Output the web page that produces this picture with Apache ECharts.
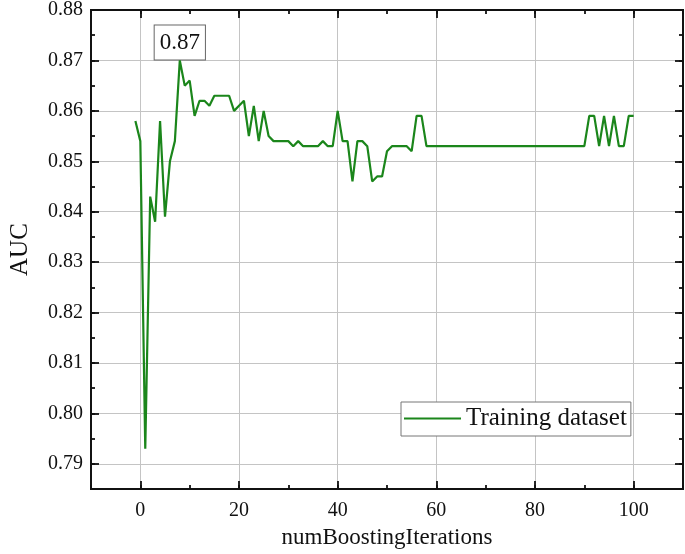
<!DOCTYPE html>
<html>
<head>
<meta charset="utf-8">
<script src="https://cdn.jsdelivr.net/npm/echarts@6/dist/echarts.min.js"></script>
<style>html,body{margin:0;padding:0;background:#fff}#c{width:685px;height:554px}</style>
</head>
<body>
<div id="c"></div>
<script>
// Data
const iterations = [-1,0,1,2,3,4,5,6,7,8,9,10,11,12,13,14,15,16,17,18,19,20,21,22,23,24,25,26,27,28,29,30,31,32,33,34,35,36,37,38,39,40,41,42,43,44,45,46,47,48,49,50,51,52,53,54,55,56,57,58,59,60,61,62,63,64,65,66,67,68,69,70,71,72,73,74,75,76,77,78,79,80,81,82,83,84,85,86,87,88,89,90,91,92,93,94,95,96,97,98,99,100];
const aucTraining = [0.858,0.854,0.793,0.843,0.838,0.858,0.839,0.850,0.854,0.870,0.865,0.866,0.859,0.862,0.862,0.861,0.863,0.863,0.863,0.863,0.860,0.861,0.862,0.855,0.861,0.854,0.860,0.855,0.854,0.854,0.854,0.854,0.853,0.854,0.853,0.853,0.853,0.853,0.854,0.853,0.853,0.860,0.854,0.854,0.846,0.854,0.854,0.853,0.846,0.847,0.847,0.852,0.853,0.853,0.853,0.853,0.852,0.859,0.859,0.853,0.853,0.853,0.853,0.853,0.853,0.853,0.853,0.853,0.853,0.853,0.853,0.853,0.853,0.853,0.853,0.853,0.853,0.853,0.853,0.853,0.853,0.853,0.853,0.853,0.853,0.853,0.853,0.853,0.853,0.853,0.853,0.853,0.859,0.859,0.853,0.859,0.853,0.859,0.853,0.853,0.859,0.859];
const xMajorTicks = [0,20,40,60,80,100];
const yMajorTicks = [0.79,0.80,0.81,0.82,0.83,0.84,0.85,0.86,0.87,0.88];
const seriesName = 'Training dataset';
const peakIndex = 9; // iteration 8, AUC 0.87

const FONT = '"Liberation Serif", "Times New Roman", serif';
const axisLineStyle = {show:true, onZero:false, lineStyle:{color:'#111', width:1.8}};
const xRange = {min:-10, max:110};
const yRange = {min:0.785, max:0.88};
const pts = iterations.map((x,i)=>[x, aucTraining[i]]);

function plainAxis(pos, range, interval, len, custom) {
  const a = Object.assign({type:'value', position:pos}, range, {
    axisLine: axisLineStyle,
    axisTick: {show:true, inside:true, length:len, lineStyle:{color:'#111', width:1.8}},
    axisLabel: {show:false}, splitLine: {show:false}
  });
  if (interval) a.interval = interval;
  if (custom) a.axisTick.customValues = custom;
  return a;
}

const option = {
  animation:false,
  backgroundColor:'#fff',
  grid:{left:85, right:2, top:9, bottom:63, containLabel:false},
  xAxis:[
    Object.assign({type:'value', position:'bottom'}, xRange, {
      name:'numBoostingIterations', nameLocation:'middle', nameGap:33,
      nameTextStyle:{fontFamily:FONT, fontSize:23, color:'#111'},
      axisLine:axisLineStyle,
      axisTick:{show:true, inside:true, length:8, lineStyle:{color:'#111', width:1.8}, customValues:xMajorTicks},
      axisLabel:{show:true, customValues:xMajorTicks, fontFamily:FONT, fontSize:20, color:'#111', margin:12},
      splitLine:{show:true, lineStyle:{color:'#c4c4c4', width:1}}
    }),
    plainAxis('bottom', xRange, 10, 4),
    plainAxis('top', xRange, null, 8, xMajorTicks),
    plainAxis('top', xRange, 10, 4)
  ],
  yAxis:[
    Object.assign({type:'value', position:'left'}, yRange, {
      name:'AUC', nameLocation:'middle', nameGap:58,
      nameTextStyle:{fontFamily:FONT, fontSize:25, color:'#111'},
      axisLine:axisLineStyle,
      axisTick:{show:true, inside:true, length:8, lineStyle:{color:'#111', width:1.8}, customValues:yMajorTicks},
      axisLabel:{show:true, customValues:yMajorTicks, fontFamily:FONT, fontSize:20, color:'#111', margin:8,
        formatter:v=>v.toFixed(2)},
      splitLine:{show:true, lineStyle:{color:'#c4c4c4', width:1}}
    }),
    plainAxis('left', yRange, 0.005, 4),
    plainAxis('right', yRange, null, 8, yMajorTicks),
    plainAxis('right', yRange, 0.005, 4)
  ],
  legend:{
    show:true, left:401, top:402, orient:'horizontal',
    backgroundColor:'#fff', borderColor:'#777', borderWidth:1, borderRadius:0,
    padding:[4,4,5,3], itemWidth:57, itemHeight:14, itemGap:6,
    textStyle:{fontFamily:FONT, fontSize:25, color:'#111'},
    data:[{name:seriesName, icon:'path://M0,6 L57,6 L57,8 L0,8 Z'}]
  },
  series:[{
    name:seriesName, type:'line', xAxisIndex:0, yAxisIndex:0,
    data:pts, showSymbol:false, symbol:'none',
    lineStyle:{color:'#1b861b', width:2.2},
    itemStyle:{color:'#1b861b'},
    z:5,
    markPoint:{
      symbol:'rect', symbolSize:0,
      data:[{coord:pts[peakIndex], value:aucTraining[peakIndex]}],
      label:{show:true, position:'top', distance:1, formatter:p=>p.value.toFixed(2),
        fontFamily:FONT, fontSize:23, color:'#111',
        backgroundColor:'#fff', borderColor:'#666', borderWidth:1, padding:[6,5,5,5]}
    }
  }]
};
const chart = echarts.init(document.getElementById('c'), null, {renderer:'canvas'});
chart.setOption(option);
</script>
</body>
</html>
